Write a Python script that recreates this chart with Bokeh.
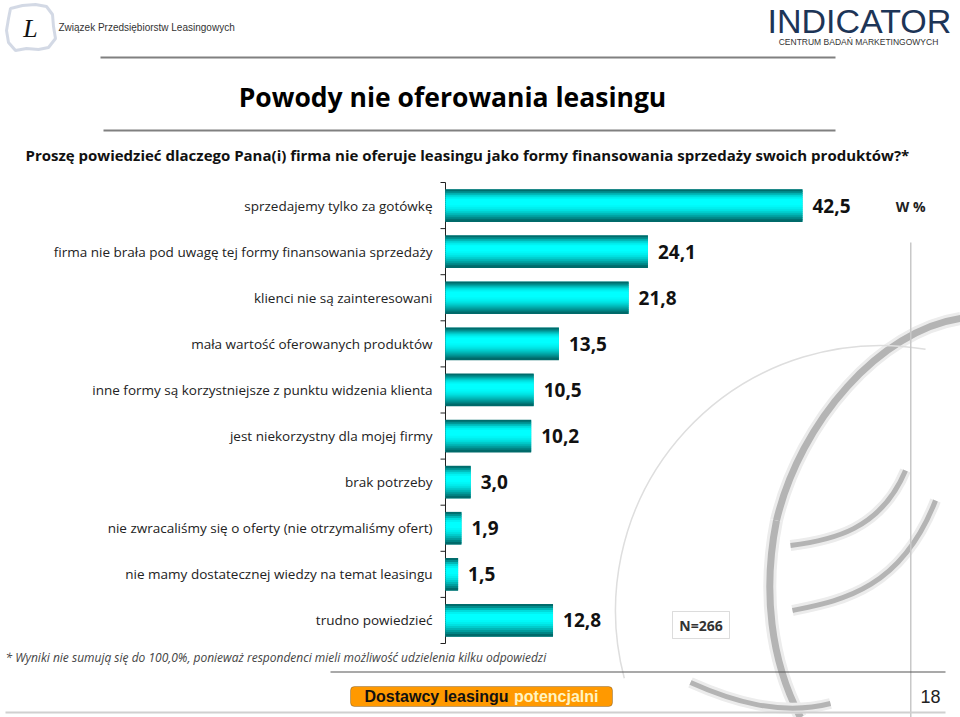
from bokeh.plotting import figure
from bokeh.models import ColumnDataSource, Range1d, Label, BoxAnnotation, PolyAnnotation
from bokeh.transform import dodge
from bokeh.core.properties import value
from bokeh.embed import file_html
from bokeh.resources import INLINE

# ---------------- data ----------------
categories = [
    "sprzedajemy tylko za gotówkę",
    "firma nie brała pod uwagę tej formy finansowania sprzedaży",
    "klienci nie są zainteresowani",
    "mała wartość oferowanych produktów",
    "inne formy są korzystniejsze z punktu widzenia klienta",
    "jest niekorzystny dla mojej firmy",
    "brak potrzeby",
    "nie zwracaliśmy się o oferty (nie otrzymaliśmy ofert)",
    "nie mamy dostatecznej wiedzy na temat leasingu",
    "trudno powiedzieć",
]
values = [42.5, 24.1, 21.8, 13.5, 10.5, 10.2, 3.0, 1.9, 1.5, 12.8]
title_text = "Powody nie oferowania leasingu"
subtitle_text = ("Proszę powiedzieć dlaczego Pana(i) firma nie oferuje leasingu jako formy "
                 "finansowania sprzedaży swoich produktów?*")
footnote_text = ("* Wyniki nie sumują się do 100,0%, ponieważ respondenci mieli możliwość "
                 "udzielenia kilku odpowiedzi")
sample_text = "N=266"
unit_text = "W %"
page_number = "18"

# ---------------- layout constants (page pixels) ----------------
W, H = 960, 717
AXIS_X = 445            # x pixel of the value axis origin
BAND_TOP, BAND_BOT = 182, 643
XS = 8.4                # px per percent
n = len(categories)
YS = (BAND_BOT - BAND_TOP) / (2 * n)   # px per y unit

def px(X):   # page pixel -> data x
    return (X - AXIS_X) / XS

def py(Y):   # page pixel -> data y (y axis points down)
    return (Y - BAND_TOP) / YS

centers = [2 * i + 1 for i in range(n)]
bounds = [2 * i for i in range(n + 1)]
labels = [f"{v:.1f}".replace(".", ",") for v in values]
src = ColumnDataSource(dict(y=centers, v=values, lab=labels, cat=categories))
tick_src = ColumnDataSource(dict(b=bounds))

p = figure(width=W, height=H, output_backend="svg", toolbar_location=None,
           x_range=Range1d(px(0), px(W)), y_range=Range1d(py(H), py(0)),
           x_axis_location=None, y_axis_location=None,
           min_border=0, outline_line_color=None, background_fill_color="white")
p.grid.visible = False

# ---------------- watermark (decorative swirl, page pixels) ----------------
wm_curves = [  # (x0, y0, cx0, cy0, cx1, cy1, x1, y1, width)
    (960, 318, 880, 330, 800, 420, 776, 520, 7),
    (776, 520, 762, 590, 770, 660, 800, 717, 7),
    (790, 545, 830, 540, 880, 530, 905, 470, 5),
    (792, 610, 840, 600, 900, 590, 935, 500, 5),
    (690, 682, 730, 700, 780, 716, 830, 703, 5),
]
for (x0, y0, a0, b0, a1, b1, x1, y1, w) in wm_curves:
    for col, extra in (("#ececec", 6), ("#b4b4b4", 0)):
        p.bezier(x0=px(x0), y0=py(y0), cx0=px(a0), cy0=py(b0), cx1=px(a1), cy1=py(b1),
                 x1=px(x1), y1=py(y1), line_color=col, line_width=w + extra, level="underlay")
p.arc(x=px(880), y=py(610), radius=265 / XS, start_angle=1.4, end_angle=3.4,
      line_color="#dedede", line_width=1.5, level="underlay")
p.add_layout(BoxAnnotation(left=px(909.5), right=px(911), top=py(242), bottom=py(717),
                           fill_color="#c8c8c8", fill_alpha=1, line_color=None, level="underlay"))

# ---------------- value axis (drawn through the scales) ----------------
TICK = 5 / XS
p.segment(x0=0, y0=bounds[0], x1=0, y1=bounds[-1], line_color="#222222", line_width=1)
p.segment(x0=-TICK, x1=0, y0="b", y1="b", source=tick_src, line_color="#222222", line_width=1)
p.text(x=0, y="y", text="cat", source=src, x_offset=-13, text_align="right",
       text_baseline="middle", text_font=value("Open Sans"), text_font_size="13.5px",
       text_color="#222222")

# ---------------- bars with vertical gradient ----------------
grad = ["#006c6c", "#008f8f", "#00b8b8", "#00dcdc", "#00f2f2", "#00ffff", "#00ffff",
        "#00ffff", "#00f8f8", "#00eeee", "#00e0e0", "#00cccc", "#00b6b6", "#009e9e",
        "#008585", "#006a6a"]
bar_h = 1.39
strip = bar_h / len(grad)
p.hbar(y="y", left=0, right="v", height=bar_h, source=src, fill_color="#00c8c8", line_color=None)
for k, col in enumerate(grad):
    off = -bar_h / 2 + (k + 0.5) * strip
    p.hbar(y=dodge("y", off), left=0, right="v", height=strip * 1.35, source=src,
           fill_color=col, line_color=None)

p.text(x="v", y="y", text="lab", source=src, x_offset=10, text_baseline="middle",
       text_font=value("Open Sans"), text_font_style="bold", text_font_size="19px",
       text_color="#111111")

# ---------------- header ----------------
logo_x = [10, 22, 35, 46, 52, 53, 55, 48, 38, 26, 15, 8, 6, 8]
logo_y = [8, 5, 4, 6, 14, 26, 38, 47, 49, 48, 50, 42, 30, 18]
p.add_layout(PolyAnnotation(xs=[px(x) for x in logo_x], ys=[py(y) for y in logo_y],
                            fill_color=None, fill_alpha=0, line_color="#6d80a8", line_width=3))
p.add_layout(Label(x=px(30), y=py(28), text="L", text_font="Liberation Serif",
                   text_font_style="italic", text_font_size="26px", text_align="center",
                   text_baseline="middle", text_color="#111111"))
p.add_layout(Label(x=px(58), y=py(27), text="Związek Przedsiębiorstw Leasingowych",
                   text_font="Liberation Sans", text_font_size="10px",
                   text_baseline="middle", text_color="#333333"))
p.add_layout(Label(x=px(767), y=py(20), text="INDICATOR", text_font="Liberation Sans",
                   text_font_size="34px", text_baseline="middle", text_color="#1d3557"))
p.add_layout(Label(x=px(858), y=py(41), text="CENTRUM BADAŃ MARKETINGOWYCH",
                   text_font="Liberation Sans", text_font_size="8.5px", text_align="center",
                   text_baseline="middle", text_color="#333333"))
p.add_layout(BoxAnnotation(left=px(100), right=px(835), top=py(56), bottom=py(58),
                           fill_color="#808080", fill_alpha=1, line_color=None))

# ---------------- titles ----------------
p.add_layout(Label(x=px(452), y=py(96), text=title_text, text_font="Open Sans",
                   text_font_style="bold", text_font_size="26.5px", text_align="center",
                   text_baseline="middle", text_color="#000000"))
p.add_layout(BoxAnnotation(left=px(103), right=px(835), top=py(129), bottom=py(131),
                           fill_color="#808080", fill_alpha=1, line_color=None))
p.add_layout(Label(x=px(25), y=py(154), text=subtitle_text, text_font="Open Sans",
                   text_font_style="bold", text_font_size="15px", text_baseline="middle",
                   text_color="#111111"))
p.add_layout(Label(x=px(925), y=py(206), text=unit_text, text_font="Open Sans",
                   text_font_style="bold", text_font_size="14px", text_align="right",
                   text_baseline="middle", text_color="#222222"))

# ---------------- sample box ----------------
p.add_layout(BoxAnnotation(left=px(672), right=px(729), top=py(611), bottom=py(638),
                           fill_color="white", fill_alpha=1, line_color="#8a8a8a", line_width=1))
p.add_layout(Label(x=px(700.5), y=py(624.5), text=sample_text, text_font="Open Sans",
                   text_font_style="bold", text_font_size="14px", text_align="center",
                   text_baseline="middle", text_color="#333333"))

# ---------------- footer ----------------
p.add_layout(Label(x=px(5), y=py(657), text=footnote_text, text_font="Open Sans",
                   text_font_style="italic", text_font_size="12px", text_baseline="middle",
                   text_color="#444444"))
p.add_layout(BoxAnnotation(left=px(330), right=px(945), top=py(671), bottom=py(672),
                           fill_color="#555555", fill_alpha=1, line_color=None))
p.add_layout(BoxAnnotation(left=px(350), right=px(612), top=py(686), bottom=py(706),
                           fill_color="#ff9900", fill_alpha=1, line_color="#333333",
                           line_width=1, border_radius=4))
p.add_layout(Label(x=px(364), y=py(696), text="Dostawcy leasingu", text_font="Liberation Sans",
                   text_font_style="bold", text_font_size="16px", text_baseline="middle",
                   text_color="#111111"))
p.add_layout(Label(x=px(598), y=py(696), text="potencjalni", text_font="Liberation Sans",
                   text_font_style="bold", text_font_size="16px", text_align="right",
                   text_baseline="middle", text_color="#fff4c2"))
p.add_layout(Label(x=px(940), y=py(696), text=page_number, text_font="Liberation Sans",
                   text_font_size="18px", text_align="right", text_baseline="middle",
                   text_color="#222222"))
p.add_layout(BoxAnnotation(left=px(5), right=px(945), top=py(711), bottom=py(713),
                           fill_color="#d0d0d0", fill_alpha=1, line_color=None))

open("out.html", "w").write(file_html(p, INLINE))
